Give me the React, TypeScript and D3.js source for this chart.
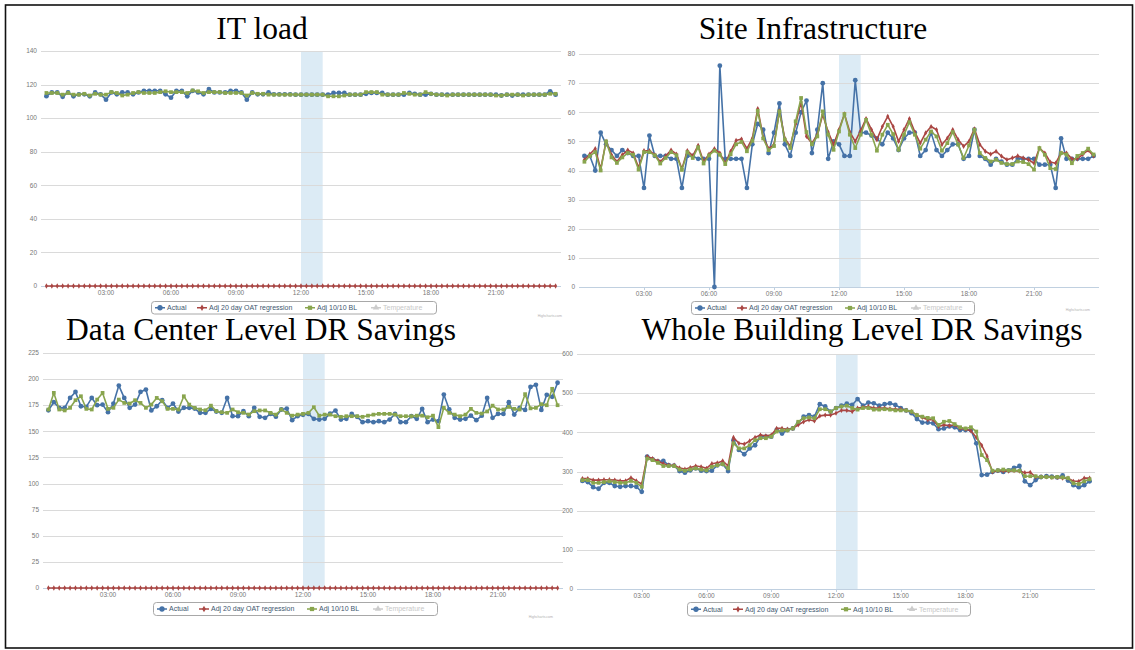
import React from 'react';
import * as d3 from 'd3';

// time of each sample, in hours (15-minute data from 00:15 to 23:45)
const TIMES: number[] = d3.range(95).map((i) => 0.25 + i * 0.25);
const X_TICKS = [3, 6, 9, 12, 15, 18, 21];
const X_TICK_LABELS = ['03:00', '06:00', '09:00', '12:00', '15:00', '18:00', '21:00'];
const SERIES_NAMES = ['Actual', 'Adj 20 day OAT regression', 'Adj 10/10 BL', 'Temperature'];
const SERIES_COLORS = ['#4572A7', '#AA4643', '#89A54E', '#cccccc'];
const EVENT_BAND = [12, 13];

// ---------------- IT load ----------------
const IT_ACTUAL = [
  113.1, 115.3, 115.3, 112.7, 115.3, 113, 114.2, 114.2, 113, 115.3, 114.2, 111,
  115.3, 114.2, 115.3, 115.3, 114.2, 115.3, 116.3, 116.3, 116.3, 116.3, 114.2, 112.2,
  116.3, 116.3, 113, 116.3, 115.3, 114.2, 117.3, 115.3, 115.3, 115.3, 116.3, 116.3,
  115.3, 111, 115.3, 114.2, 114.2, 115.3, 114.2, 114.2, 114.2, 114.2, 114, 114,
  114, 114, 114, 114, 114, 115, 115, 115, 114, 114, 114, 114.5,
  115, 115, 115, 114, 114, 114, 114, 115, 114.5, 114, 114, 114.5,
  114, 114, 114, 114, 114, 114, 114, 114, 114, 114, 114, 114,
  113.5, 114, 113.5, 114, 114, 114, 114, 114, 114, 116, 114,
];
const IT_REGRESSION = [
  0, 0, 0, 0, 0, 0, 0, 0, 0, 0, 0, 0,
  0, 0, 0, 0, 0, 0, 0, 0, 0, 0, 0, 0,
  0, 0, 0, 0, 0, 0, 0, 0, 0, 0, 0, 0,
  0, 0, 0, 0, 0, 0, 0, 0, 0, 0, 0, 0,
  0, 0, 0, 0, 0, 0, 0, 0, 0, 0, 0, 0,
  0, 0, 0, 0, 0, 0, 0, 0, 0, 0, 0, 0,
  0, 0, 0, 0, 0, 0, 0, 0, 0, 0, 0, 0,
  0, 0, 0, 0, 0, 0, 0, 0, 0, 0, 0,
];
const IT_BASELINE = [
  115, 115, 115, 114, 115, 114, 114, 114.5, 113.5, 114.5, 114, 114,
  115.5, 115, 113.5, 114, 115, 115.5, 115, 115, 115, 115.5, 116, 115.5,
  115.5, 115.5, 115, 116.5, 116, 115, 115.5, 115.5, 115.5, 115, 115, 115,
  115, 113.5, 115, 114.5, 114.5, 114, 114, 114, 114, 114, 114, 114,
  114, 114, 114, 114, 113, 113, 113, 113.5, 114, 114, 114, 115.5,
  115.5, 115.5, 114, 114, 114, 114, 115, 114.5, 114, 114, 115.5, 114.5,
  114, 114, 113.5, 114, 114, 114, 114, 114, 114, 114, 114, 113.5,
  113.5, 114, 114, 114, 113.5, 114, 114, 114, 114, 114.5, 114.5,
];

// ---------------- Site Infrastructure ----------------
const SITE_ACTUAL = [
  45, 45, 40, 53, 49, 47, 45, 47, 46, 45, 45, 34,
  52, 45, 45, 45, 44, 44, 34, 45, 45, 44, 44, 44,
  0, 76, 44, 44, 44, 44, 34, 49, 56, 54, 46, 53,
  63, 49, 45, 53, 60, 64, 46, 54, 70, 44, 50, 49,
  45, 45, 71, 53, 53, 52, 51, 49, 53, 51, 47, 51,
  53, 53, 45, 47, 53, 47, 45, 47, 49, 49, 44, 45,
  54, 45, 44, 42, 44, 43, 42, 42, 44, 44, 44, 44,
  42, 42, 42, 34, 51, 44, 44, 44, 44, 44, 45,
];
const SITE_REGRESSION = [
  43.7, 45.6, 47.5, 40.5, 50, 45.4, 43, 45.4, 47, 46, 41, 46.8,
  46.8, 45.4, 43, 45, 47, 45.6, 40.6, 46.8, 45, 48.6, 43, 45.6,
  47.5, 46, 42.5, 46.6, 50.3, 50.8, 47.5, 51, 61.2, 51.4, 47.5, 48.9,
  60.5, 51, 48.3, 56, 63.5, 51.7, 49.4, 52.3, 59.2, 53.2, 48.9, 54,
  59.4, 53.2, 50, 53.7, 57.8, 54, 50.6, 55.1, 58.6, 55.1, 50, 54,
  57.8, 53.2, 49.4, 52.9, 55.1, 54, 48.9, 51.1, 54, 50.6, 48.3, 50,
  54.3, 48.9, 46.6, 45.6, 46.6, 44.9, 43.7, 44.3, 45, 44.3, 43.7, 42.5,
  47.7, 46, 42.9, 42.5, 46, 46, 44, 44, 45.5, 47, 45,
];
const SITE_BASELINE = [
  43, 45, 46.3, 40, 50, 44.5, 42.6, 44.5, 46, 45.4, 40.3, 46.3,
  46.3, 45.2, 42.4, 44.3, 46.3, 45.2, 40.2, 46.3, 44.3, 48, 42.4, 45.2,
  46.8, 45.4, 42.2, 45.6, 49, 49.8, 46.6, 50.2, 60.5, 51, 47, 48.4,
  60.3, 50.6, 47.7, 56.9, 64.9, 53.2, 49, 51.7, 60.3, 52.3, 47.1, 53.4,
  59.4, 52.3, 47.7, 52.3, 57.4, 52.3, 46.8, 52.3, 55.7, 52.5, 47.1, 52.3,
  56.6, 52.3, 47.5, 50.6, 53.4, 51.7, 46.8, 49.4, 53.2, 48.9, 44.3, 48.6,
  54, 46, 44.3, 43.1, 43.7, 42.6, 42.2, 42.2, 43.1, 42.9, 42.2, 40.3,
  47.7, 45.4, 40.8, 40.5, 46, 45.5, 42.5, 45, 46, 47.5, 45.5,
];

// ---------------- Data Center Level DR Savings ----------------
const DC_ACTUAL = [
  170.2, 177.9, 172.5, 172.5, 182, 187.7, 174, 173.4, 182, 175, 175.6, 168.3,
  176.6, 193.8, 182, 172.5, 175.6, 187.7, 190, 170, 174, 179.8, 172.5, 176.6,
  169, 172.5, 172.5, 171.8, 167.7, 167.7, 171.5, 169, 167.7, 182, 164.5, 164.5,
  169.3, 164.5, 172.5, 163.9, 162.9, 166.7, 164, 170.9, 171.8, 160.7, 164.5, 165.8,
  166.7, 162, 161.3, 162, 167, 169.9, 161.3, 162, 166.7, 163.9, 158.8, 159.7,
  158.8, 159.7, 158.8, 161.3, 166.7, 158.8, 158.8, 164.5, 162, 171.5, 158.8, 161.3,
  159.7, 185.2, 170.9, 162.9, 161.3, 162, 165, 160.7, 165, 182, 162.9, 166.7,
  166.7, 177.9, 166, 172.5, 170.5, 192.5, 194.5, 170.5, 185, 183, 196.5,
];
const DC_REGRESSION = [
  0, 0, 0, 0, 0, 0, 0, 0, 0, 0, 0, 0,
  0, 0, 0, 0, 0, 0, 0, 0, 0, 0, 0, 0,
  0, 0, 0, 0, 0, 0, 0, 0, 0, 0, 0, 0,
  0, 0, 0, 0, 0, 0, 0, 0, 0, 0, 0, 0,
  0, 0, 0, 0, 0, 0, 0, 0, 0, 0, 0, 0,
  0, 0, 0, 0, 0, 0, 0, 0, 0, 0, 0, 0,
  0, 0, 0, 0, 0, 0, 0, 0, 0, 0, 0, 0,
  0, 0, 0, 0, 0, 0, 0, 0, 0, 0, 0,
];
const DC_BASELINE = [
  170.9, 186.8, 170.9, 170, 172.5, 179.8, 183.6, 171.5, 170.9, 180.4, 186.8, 171.5,
  172.5, 180.4, 177.2, 176.6, 179.8, 177.2, 172.5, 175.6, 182, 178.8, 171.5, 171.5,
  170.9, 183.6, 175.6, 172.5, 170.9, 170.2, 174.6, 169.3, 168.3, 167.7, 170.9, 168.3,
  167.7, 166.1, 169.3, 170, 170, 167.7, 166, 170.9, 167.7, 165, 166, 166.7,
  167.7, 173.1, 165, 166, 166, 164.5, 163.9, 164.5, 164.5, 164.5, 163.9, 165,
  166, 166.7, 166.7, 166.7, 166, 164.5, 164.5, 164.5, 165, 165, 163.5, 165,
  154, 172.5, 167.7, 166, 164.5, 166, 171.5, 167.7, 167, 169, 174.6, 170.9,
  170.9, 173.4, 171.5, 170.9, 185.6, 172, 172.5, 176, 175, 190.7, 175,
];

// ---------------- Whole Building Level DR Savings ----------------
const WB_ACTUAL = [
  276, 273, 260, 256, 271, 271, 263, 261, 263, 263, 261, 248,
  338, 331, 326, 327, 316, 315, 301, 297, 303, 308, 302, 301,
  302, 316, 319, 301, 380, 355, 344, 359, 367, 389, 389, 389,
  406, 397, 406, 410, 423, 440, 444, 440, 472, 466, 453, 462,
  468, 473, 470, 485, 468, 476, 474, 468, 472, 474, 470, 462,
  456, 449, 434, 425, 425, 423, 408, 410, 415, 413, 406, 406,
  406, 372, 291, 292, 299, 302, 299, 303, 309, 314, 275, 265,
  278, 286, 288, 287, 285, 290, 277, 265, 260, 265, 275,
];
const WB_REGRESSION = [
  282, 282, 278, 278, 279, 279, 278, 276, 276, 284, 276, 268,
  338, 333, 327, 320, 316, 316, 309, 306, 310, 314, 312, 308,
  320, 322, 327, 314, 387, 372, 370, 378, 387, 393, 391, 393,
  410, 410, 408, 410, 419, 427, 432, 429, 442, 444, 444, 449,
  456, 456, 453, 462, 464, 466, 462, 462, 462, 460, 459, 459,
  456, 453, 444, 438, 432, 432, 415, 419, 417, 419, 410, 408,
  404, 387, 367, 339, 299, 302, 301, 301, 302, 301, 297, 298,
  286, 286, 286, 285, 285, 283, 283, 275, 275, 283, 283,
];
const WB_BASELINE = [
  278, 278, 271, 271, 273, 275, 273, 271, 271, 276, 271, 261,
  333, 329, 322, 314, 314, 314, 305, 302, 305, 308, 305, 303,
  312, 316, 319, 308, 372, 359, 359, 367, 380, 385, 385, 389,
  402, 405, 405, 410, 427, 436, 438, 436, 459, 459, 453, 462,
  466, 468, 462, 458, 462, 462, 458, 458, 459, 458, 456, 456,
  456, 453, 444, 440, 437, 436, 419, 427, 429, 421, 413, 410,
  413, 402, 342, 329, 302, 303, 305, 303, 303, 302, 288, 288,
  288, 286, 286, 285, 286, 285, 283, 270, 268, 275, 280,
];

type Panel = {
  title: string;
  series: number[][];
  yMax: number;
  yStep: number;
  plot: { x0: number; x1: number; yTop: number; yBot: number };
  titleX: number;
  titleY: number;
  legend: { x: number; y: number; w: number; h: number };
  credit?: { x: number; y: number };
};

const PANELS: Panel[] = [
  {
    title: 'IT load',
    series: [IT_ACTUAL, IT_REGRESSION, IT_BASELINE],
    yMax: 140,
    yStep: 20,
    plot: { x0: 41, x1: 561, yTop: 51, yBot: 286 },
    titleX: 262,
    titleY: 39,
    legend: { x: 151, y: 301, w: 285, h: 12.5 },
    credit: { x: 562, y: 317 },
  },
  {
    title: 'Site Infrastructure',
    series: [SITE_ACTUAL, SITE_REGRESSION, SITE_BASELINE],
    yMax: 80,
    yStep: 10,
    plot: { x0: 579, x1: 1099, yTop: 54, yBot: 287 },
    titleX: 813,
    titleY: 39,
    legend: { x: 691, y: 301, w: 283, h: 13 },
    credit: { x: 1090, y: 311 },
  },
  {
    title: 'Data Center Level DR Savings',
    series: [DC_ACTUAL, DC_REGRESSION, DC_BASELINE],
    yMax: 225,
    yStep: 25,
    plot: { x0: 43, x1: 563, yTop: 353, yBot: 588 },
    titleX: 261,
    titleY: 340,
    legend: { x: 153, y: 602, w: 284, h: 13 },
    credit: { x: 553, y: 618 },
  },
  {
    title: 'Whole Building Level DR Savings',
    series: [WB_ACTUAL, WB_REGRESSION, WB_BASELINE],
    yMax: 600,
    yStep: 100,
    plot: { x0: 577, x1: 1095, yTop: 354, yBot: 589 },
    titleX: 862,
    titleY: 340,
    legend: { x: 687, y: 602, w: 283, h: 13.5 },
  },
];

const SYMBOLS = [d3.symbolCircle, d3.symbolDiamond, d3.symbolSquare, d3.symbolTriangle];
const SYMBOL_SIZES = [18, 8, 14, 14];
const LEGEND_MARK_X = [9, 51, 159, 225];
const LEGEND_TEXT_X = [16, 58, 166, 232];

const LABEL_FONT = '"Liberation Sans", Arial, sans-serif';

function ChartPanel({ p, idx }: { p: Panel; idx: number }) {
  const x = d3.scaleLinear().domain([0, 24]).range([p.plot.x0, p.plot.x1]);
  const y = d3.scaleLinear().domain([0, p.yMax]).range([p.plot.yBot, p.plot.yTop]);
  const yTicks = d3.range(0, p.yMax + 0.001, p.yStep);
  const line = d3
    .line<number>()
    .x((_, i) => x(TIMES[i]))
    .y((v) => y(v));
  const clipId = `clip-${idx}`;
  return (
    <g>
      <defs>
        <clipPath id={clipId}>
          <rect x={p.plot.x0 - 4} y={p.plot.yTop - 6} width={p.plot.x1 - p.plot.x0 + 8} height={p.plot.yBot - p.plot.yTop + 10} />
        </clipPath>
      </defs>
      {/* plot band */}
      <rect
        x={x(EVENT_BAND[0])}
        y={p.plot.yTop}
        width={x(EVENT_BAND[1]) - x(EVENT_BAND[0])}
        height={p.plot.yBot - p.plot.yTop}
        fill="#dcebf5"
      />
      {/* gridlines + y labels */}
      {yTicks.map((t) => (
        <g key={t}>
          {t > 0 && (
            <line x1={p.plot.x0} x2={p.plot.x1} y1={Math.round(y(t)) + 0.5} y2={Math.round(y(t)) + 0.5} stroke="#dadada" strokeWidth={1} />
          )}
          <text
            x={p.plot.x0 - 4}
            y={y(t)}
            dy="0.35em"
            textAnchor="end"
            fontFamily={LABEL_FONT}
            fontSize={6.5}
            fill="#777"
          >
            {t}
          </text>
        </g>
      ))}
      {/* x axis */}
      <line x1={p.plot.x0} x2={p.plot.x1} y1={Math.round(p.plot.yBot) + 0.5} y2={Math.round(p.plot.yBot) + 0.5} stroke="#c0d0e0" strokeWidth={1} />
      {X_TICKS.map((t, i) => (
        <g key={t}>
          <line x1={Math.round(x(t)) + 0.5} x2={Math.round(x(t)) + 0.5} y1={p.plot.yBot} y2={p.plot.yBot + 3} stroke="#c0d0e0" />
          <text x={x(t)} y={p.plot.yBot + 8.5} textAnchor="middle" fontFamily={LABEL_FONT} fontSize={6.5} fill="#777">
            {X_TICK_LABELS[i]}
          </text>
        </g>
      ))}
      {/* series */}
      <g clipPath={`url(#${clipId})`}>
        {p.series.map((s, si) => (
          <g key={si}>
            <path d={line(s) || ''} fill="none" stroke={SERIES_COLORS[si]} strokeWidth={1.6} strokeLinejoin="round" />
            {s.map((v, i) => (
              <path
                key={i}
                transform={`translate(${x(TIMES[i])},${y(v)})`}
                d={d3.symbol().type(SYMBOLS[si]).size(SYMBOL_SIZES[si])() || ''}
                fill={SERIES_COLORS[si]}
              />
            ))}
          </g>
        ))}
      </g>
      {/* legend */}
      <rect
        x={p.legend.x + 0.5}
        y={p.legend.y + 0.5}
        width={p.legend.w}
        height={p.legend.h}
        rx={3}
        fill="#fff"
        stroke="#a8a8a8"
        strokeWidth={1}
      />
      {SERIES_NAMES.map((name, si) => {
        const cy = p.legend.y + p.legend.h / 2 + 0.5;
        const mx = p.legend.x + LEGEND_MARK_X[si];
        return (
          <g key={name}>
            <line x1={mx - 5} x2={mx + 5} y1={cy} y2={cy} stroke={SERIES_COLORS[si]} strokeWidth={1.5} />
            <path
              transform={`translate(${mx},${cy})`}
              d={d3.symbol().type(SYMBOLS[si]).size(SYMBOL_SIZES[si] + 4)() || ''}
              fill={SERIES_COLORS[si]}
            />
            <text
              x={p.legend.x + LEGEND_TEXT_X[si]}
              y={cy}
              dy="0.35em"
              fontFamily={LABEL_FONT}
              fontSize={7}
              fill={si === 3 ? '#c8c8c8' : '#3E576F'}
            >
              {name}
            </text>
          </g>
        );
      })}
      {p.credit && (
        <text x={p.credit.x} y={p.credit.y} textAnchor="end" fontFamily={LABEL_FONT} fontSize={3.5} fill="#b0b0b0">
          Highcharts.com
        </text>
      )}
      {/* title */}
      <text
        x={p.titleX}
        y={p.titleY}
        textAnchor="middle"
        fontFamily='"Liberation Serif", "Times New Roman", serif'
        fontSize={31.5}
        fill="#000"
      >
        {p.title}
      </text>
    </g>
  );
}

export default function App() {
  return (
    <div style={{ position: 'absolute', left: 0, top: 0, width: 1135, height: 650, background: '#fff' }}>
      <svg width={1135} height={650} style={{ display: 'block' }}>
        <rect x={0} y={0} width={1135} height={650} fill="#fff" />
        {PANELS.map((p, i) => (
          <ChartPanel key={i} p={p} idx={i} />
        ))}
        <rect x={5.5} y={5} width={1127} height={643} fill="none" stroke="#111" strokeWidth={1.6} />
      </svg>
    </div>
  );
}
